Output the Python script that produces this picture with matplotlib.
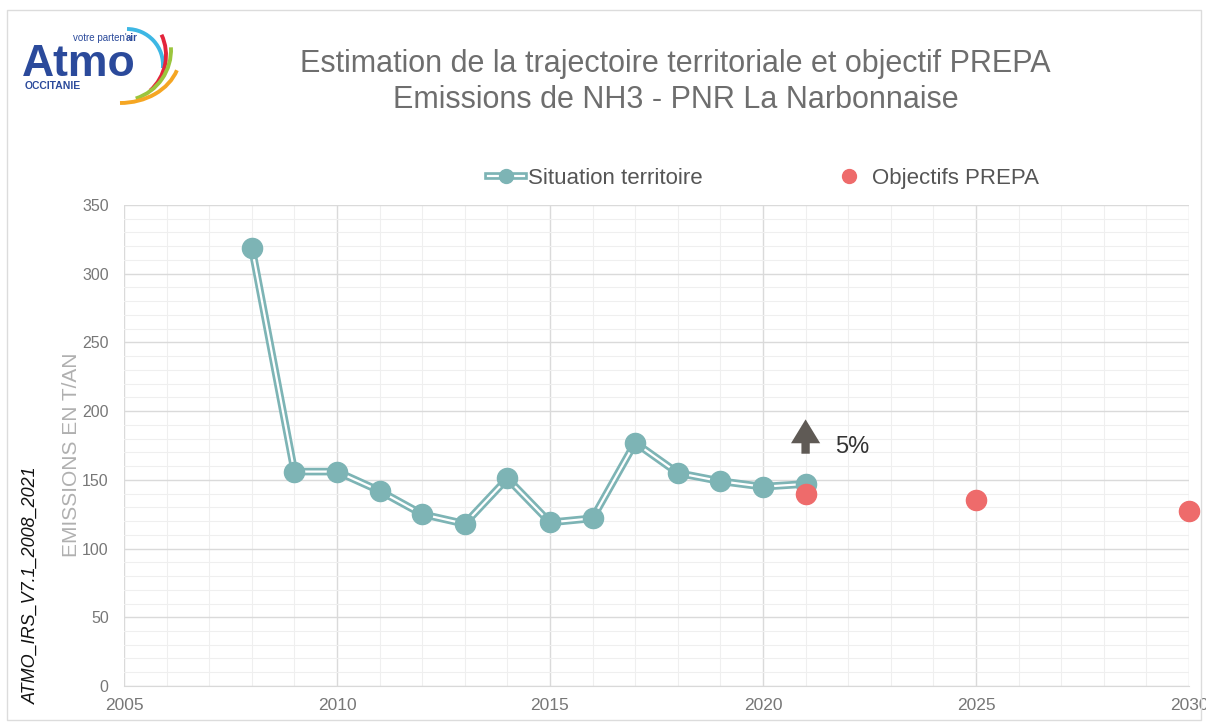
import matplotlib.pyplot as plt
from matplotlib.lines import Line2D
from matplotlib.patches import Arc, Rectangle
from matplotlib.ticker import MultipleLocator

years = [2008, 2009, 2010, 2011, 2012, 2013, 2014, 2015, 2016, 2017, 2018, 2019, 2020, 2021]
emissions = [319, 156, 156, 142, 125, 118, 151, 119, 122, 177, 155, 149, 145, 147]
prepa_years = [2021, 2025, 2030]
prepa_values = [140, 135, 127]

teal = '#7db4b5'
red = '#ee6b6b'
grey_txt = '#6e6e6e'
sans = ['Liberation Sans Narrow', 'Liberation Sans', 'DejaVu Sans']

plt.rcParams['font.family'] = sans

fig = plt.figure(figsize=(12.06, 7.22), dpi=100)
fig.patches.append(Rectangle((0.006, 0.003), 0.99, 0.983, transform=fig.transFigure,
                             fill=False, edgecolor='#dcdcdc', linewidth=1))

ax = fig.add_axes([0.1028, 0.0499, 0.8831, 0.6662])

# double line: teal outside, white core
ax.plot(years, emissions, color=teal, linewidth=5.5, zorder=3)
ax.plot(years, emissions, color='white', linewidth=1.6, zorder=4)
ax.plot(years, emissions, linestyle='none', marker='o', markersize=14.5,
        color=teal, zorder=5)
ax.plot(prepa_years, prepa_values, linestyle='none', marker='o', markersize=14.5,
        color=red, zorder=6, clip_on=False)

ax.set_xlim(2005, 2030)
ax.set_ylim(0, 350)
ax.xaxis.set_major_locator(MultipleLocator(5))
ax.xaxis.set_minor_locator(MultipleLocator(1))
ax.yaxis.set_major_locator(MultipleLocator(50))
ax.yaxis.set_minor_locator(MultipleLocator(10))
ax.grid(which='major', color='#dadada', linewidth=1)
ax.grid(which='minor', color='#efefef', linewidth=0.8)
ax.set_axisbelow(True)
for s in ['top', 'right', 'left']:
    ax.spines[s].set_visible(False)
ax.spines['bottom'].set_color('#d9d9d9')
ax.tick_params(which='both', length=0)
ax.tick_params(axis='x', labelsize=12.5, labelcolor='#777777', pad=9)
ax.tick_params(axis='y', labelsize=11.5, labelcolor='#777777', pad=11)
ax.set_ylabel('EMISSIONS EN T/AN', fontsize=15, color='#b0b0b0', labelpad=1)
ax.yaxis.label.set_y(0.48)

# 5% arrow
ax.annotate('', xy=(2021, 194), xytext=(2021, 169),
            arrowprops=dict(arrowstyle='simple,head_length=0.86,head_width=1.05,tail_width=0.3',
                            mutation_scale=20, color='#5f5a55', lw=0, shrinkA=0, shrinkB=0))
ax.text(2021.7, 174, '5%', fontsize=17, color='#333333', va='center', ha='left')

# legend
h1 = (Line2D([], [], color=teal, linewidth=5.5), Line2D([], [], color='white', linewidth=1.6),
      Line2D([], [], linestyle='none', marker='o', markersize=10, color=teal))
h2 = Line2D([], [], linestyle='none', marker='o', markersize=10, color=red)
fig.legend([h1, h2], ['Situation territoire', 'Objectifs PREPA'], loc='center',
           bbox_to_anchor=(0.633, 0.753), ncol=2, frameon=False, fontsize=16,
           handlelength=1.6, handletextpad=0.2, columnspacing=5.8, labelcolor='#555555')

# titles
fig.text(0.56, 0.912, 'Estimation de la trajectoire territoriale et objectif PREPA',
         ha='center', va='center', fontsize=22, color=grey_txt)
fig.text(0.56, 0.862, 'Emissions de NH3 - PNR La Narbonnaise',
         ha='center', va='center', fontsize=22, color=grey_txt)

# side label
fig.text(0.026, 0.19, 'ATMO_IRS_V7.1_2008_2021', rotation=90, ha='center', va='center',
         fontsize=13, style='italic', color='#111111')

# logo
blue = '#2b4a9b'
fig.text(22 / 1206, 1 - 76 / 722, 'Atmo', fontsize=32, fontweight='bold', color=blue,
         ha='left', va='baseline')
fig.text(25 / 1206, 1 - 89 / 722, 'OCCITANIE', fontsize=7.5, fontweight='bold', color=blue,
         ha='left', va='baseline')
fig.text(73 / 1206, 1 - 41 / 722, "votre parten'", fontsize=7, color=blue, ha='left',
         va='baseline')
fig.text(126 / 1206, 1 - 41 / 722, 'air', fontsize=7, color=blue, fontweight='bold',
         ha='left', va='baseline')
lax = fig.add_axes([60 / 1206, 1 - 115 / 722, 140 / 1206, 100 / 722])
lax.set_xlim(60, 200)
lax.set_ylim(722 - 115, 722 - 15)
lax.axis('off')
# (centre px, width, height, theta1, theta2, colour)
arcs = [((127, 65), 72, 72, -5, 90, '#3db7e4'),
        ((118, 55), 96, 96, -48, 25, '#e3243b'),
        ((120, 50), 102, 102, -72, 3, '#9bc53d'),
        ((120, 55), 120, 96, -90, -15, '#f5a623')]
for (cx, cy), w, h, t1, t2, c in arcs:
    lax.add_patch(Arc((cx, 722 - cy), w, h, theta1=t1, theta2=t2,
                      color=c, linewidth=2.8))

fig.savefig('out.png', dpi=100)
